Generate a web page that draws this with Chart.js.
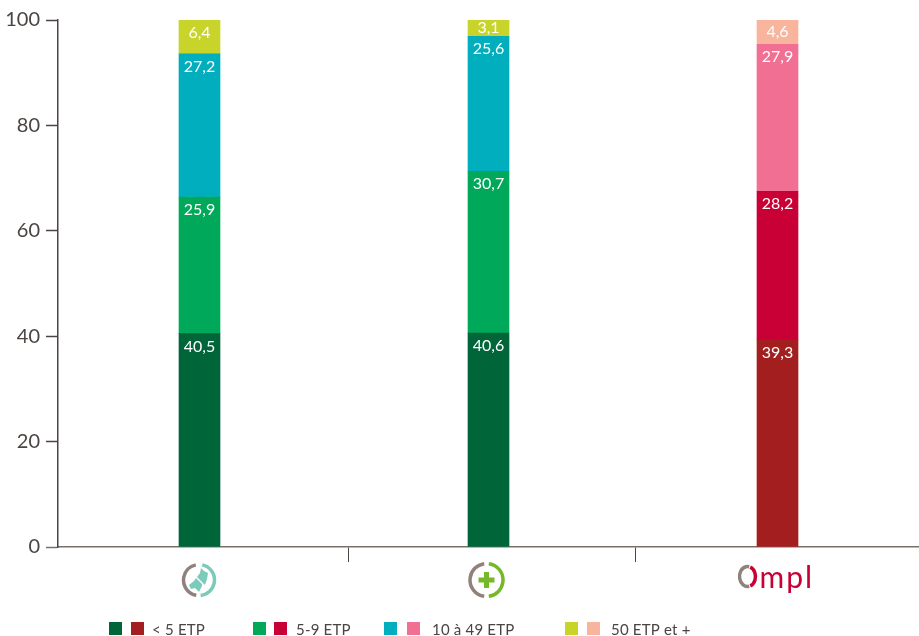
<!DOCTYPE html>
<html lang="fr">
<head>
    <meta charset="UTF-8">
    <title>Répartition par taille</title>
    <script src="https://cdn.jsdelivr.net/npm/chart.js@4"></script>
    <style>
        html, body { margin: 0; padding: 0; background: #fff; overflow: hidden; }
        canvas { display: block; }
    </style>
</head>
<body>
    <canvas id="chart" width="919" height="636"></canvas>
    <script>
        // groups sit at x = 1, 2, 3 on a linear axis, the separators are not quite midway
        const groups = [1, 2, 3];
        const separators = [1.514, 2.507];
        const xMin = 0.5104;
        const xMax = 3.4896;
        const yTicks = [0, 20, 40, 60, 80, 100];

        const under5 = [40.5, 40.6, 39.3];
        const from5to9 = [25.9, 30.7, 28.2];
        const from10to49 = [27.2, 25.6, 27.9];
        const over50 = [6.4, 3.1, 4.6];

        const seriesNames = ['< 5 ETP', '5-9 ETP', '10 à 49 ETP', '50 ETP et +'];

        // first two groups share one palette, the third has its own
        const greenColors = ['#00663a', '#00a85a', '#00aebd', '#c8d42a'];
        const redColors = ['#a31f1f', '#c90035', '#f06f93', '#f8b49c'];

        const textColor = '#4a4442';
        const baseLineColor = '#77706d';
        const fontName = 'Lato, "Open Sans", sans-serif';

        function colorsFor(i) {
            return [greenColors[i], greenColors[i], redColors[i]];
        }

        // values written in white near the top of each segment
        const valueLabels = {
            id: 'valueLabels',
            afterDatasetsDraw(chart) {
                const ctx = chart.ctx;
                ctx.save();
                ctx.fillStyle = '#fff';
                ctx.font = '16px ' + fontName;
                ctx.textAlign = 'center';
                ctx.textBaseline = 'middle';
                chart.data.datasets.forEach((ds, d) => {
                    chart.getDatasetMeta(d).data.forEach((bar, i) => {
                        const height = bar.base - bar.y;
                        const offset = Math.min(13, height / 2);
                        ctx.fillText(String(ds.data[i].y).replace('.', ','), bar.x, bar.y + offset);
                    });
                });
                ctx.restore();
            }
        };

        function ring(ctx, x, y, r, width, color, from, to, ry) {
            ctx.beginPath();
            ctx.lineWidth = width;
            ctx.strokeStyle = color;
            ctx.ellipse(x, y, r, ry || r, 0, from * Math.PI / 180, to * Math.PI / 180);
            ctx.stroke();
        }

        function shape(ctx, pts) {
            ctx.beginPath();
            pts.forEach((p, i) => i ? ctx.lineTo(p[0], p[1]) : ctx.moveTo(p[0], p[1]));
            ctx.closePath();
            ctx.fill();
        }

        // small logos under the x axis
        const logos = {
            id: 'logos',
            afterDraw(chart) {
                const ctx = chart.ctx;
                const xs = chart.scales.x;
                const gray = '#8f827d';
                const y = 580;
                ctx.save();

                let x = xs.getPixelForValue(1) - 0.5;
                ring(ctx, x, y, 15.5, 3.5, gray, 100, 258);
                ring(ctx, x, y, 15.5, 3.5, '#7ccabb', -78, 84);
                ctx.fillStyle = '#7ccabb';
                shape(ctx, [[x - 10, y + 5], [x - 5, y + 1], [x - 3, y - 2], [x + 3, y + 4],
                    [x + 3, y + 6], [x, y + 12], [x - 4, y + 8], [x - 8, y + 9]]);
                shape(ctx, [[x - 2, y - 3], [x + 1, y - 7], [x + 2, y - 12], [x + 5, y - 9],
                    [x + 9, y - 7], [x + 8, y - 1], [x + 6, y + 5], [x + 4, y + 3]]);

                x = xs.getPixelForValue(2) - 2;
                ring(ctx, x, y, 16.5, 3.5, gray, 98, 262);
                ring(ctx, x, y, 16.5, 3.5, '#76b82a', -82, 82);
                ctx.fillStyle = '#76b82a';
                ctx.fillRect(x - 8, y - 2.5, 16, 5);
                ctx.fillRect(x - 2.5, y - 8, 5, 16);

                x = xs.getPixelForValue(3) - 30;
                ring(ctx, x, 576.5, 8, 3.5, gray, 78, 282, 10);
                ring(ctx, x, 576.5, 8, 3.5, '#c90035', -70, 70, 10);
                ctx.fillStyle = '#c90035';
                ctx.font = '400 30px ' + fontName;
                ctx.letterSpacing = '2px';
                ctx.textAlign = 'left';
                ctx.textBaseline = 'alphabetic';
                ctx.fillText('mpl', x + 12, 588);
                ctx.restore();
            }
        };

        // legend has two swatches per entry, one per palette
        const legendX = [[109, 131, 152], [253, 274, 296], [384, 407, 432], [565, 587, 611]];
        const doubleLegend = {
            id: 'doubleLegend',
            afterDraw(chart) {
                const ctx = chart.ctx;
                ctx.save();
                ctx.font = '15px ' + fontName;
                ctx.letterSpacing = '0.2px';
                ctx.textAlign = 'left';
                ctx.textBaseline = 'alphabetic';
                seriesNames.forEach((name, i) => {
                    ctx.fillStyle = greenColors[i];
                    ctx.fillRect(legendX[i][0], 622, 13, 13);
                    ctx.fillStyle = redColors[i];
                    ctx.fillRect(legendX[i][1], 622, 13, 13);
                    ctx.fillStyle = textColor;
                    ctx.fillText(name, legendX[i][2], 635);
                });
                ctx.restore();
            }
        };

        new Chart(document.getElementById('chart'), {
            type: 'bar',
            data: {
                datasets: [under5, from5to9, from10to49, over50].map((values, i) => ({
                    label: seriesNames[i],
                    data: values.map((v, g) => ({ x: groups[g], y: v })),
                    backgroundColor: colorsFor(i),
                    barThickness: 41,
                    stack: 'total'
                }))
            },
            options: {
                responsive: false,
                animation: false,
                layout: { padding: { top: 20, left: 0, right: 0, bottom: 0 } },
                plugins: {
                    legend: { display: false },
                    tooltip: { enabled: false }
                },
                scales: {
                    x: {
                        type: 'linear',
                        stacked: true,
                        offset: false,
                        min: xMin,
                        max: xMax,
                        afterFit(scale) { scale.height = 89; },
                        afterBuildTicks(scale) { scale.ticks = separators.map(v => ({ value: v })); },
                        border: { color: baseLineColor, width: 1.5 },
                        grid: {
                            offset: false,
                            drawOnChartArea: false,
                            tickLength: 15,
                            tickWidth: 1,
                            tickColor: textColor
                        },
                        ticks: { display: false }
                    },
                    y: {
                        stacked: true,
                        min: 0,
                        max: 100,
                        afterFit(scale) { scale.width = 58; },
                        afterBuildTicks(scale) { scale.ticks = yTicks.map(v => ({ value: v })); },
                        border: { color: textColor, width: 1.5 },
                        grid: {
                            drawOnChartArea: false,
                            tickLength: 12,
                            tickWidth: 1.5,
                            tickColor: (c) => c.index === 0 ? baseLineColor : textColor
                        },
                        ticks: {
                            padding: 6,
                            color: textColor,
                            font: { family: fontName, size: 20 }
                        }
                    }
                }
            },
            plugins: [valueLabels, logos, doubleLegend]
        });
    </script>
</body>
</html>
